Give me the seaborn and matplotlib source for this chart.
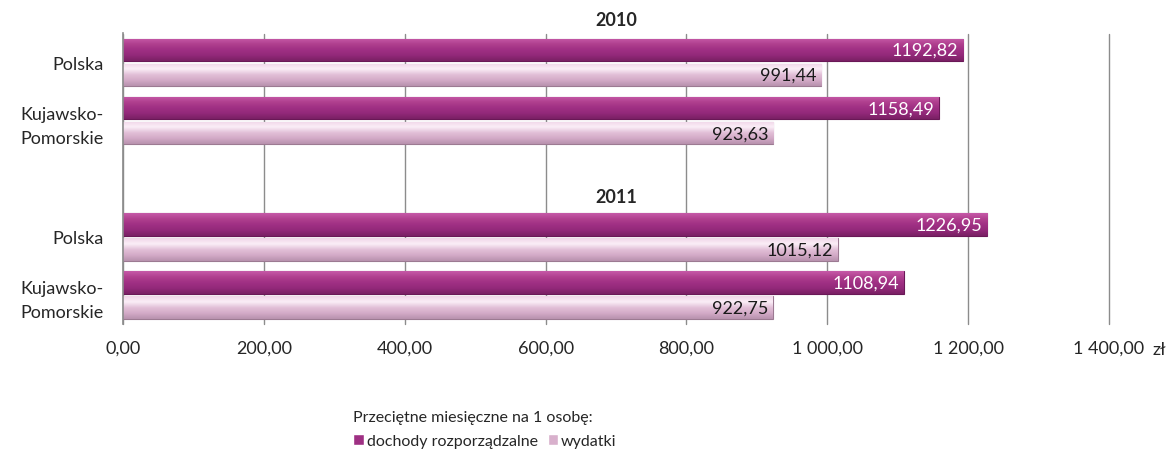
import numpy as np
import pandas as pd
import matplotlib
matplotlib.use("Agg")
import matplotlib.pyplot as plt
import matplotlib.transforms as mtrans
from matplotlib.colors import LinearSegmentedColormap
import seaborn as sns

# data
years = ["2010", "2011"]
regions = ["Polska", "Kujawsko-Pomorskie"]
region_labels = ["Polska", "Kujawsko-\nPomorskie"]
dochody = [1192.82, 1158.49, 1226.95, 1108.94]
wydatki = [991.44, 923.63, 1015.12, 922.75]
series = ["dochody rozporządzalne", "wydatki"]
colors = ["#9E3083", "#D8B0CC"]
edge_colors = ["#6A1857", "#9C7A92"]
label_colors = ["white", "#1a1a1a"]
# top -> bottom shading of the bars
shades = [["#C65AA8", "#B0408F", "#A03084", "#93297A", "#7A2064"],
          ["#F0D6E8", "#FBEEF7", "#E2C0D8", "#D3AAC7", "#B892AE"]]
x_ticks = [0, 200, 400, 600, 800, 1000, 1200, 1400]

rows = [f"{y}|{r}" for y in years for r in regions]
df = pd.DataFrame({
    "row": rows * 2,
    "series": [series[0]] * 4 + [series[1]] * 4,
    "value": dochody + wydatki,
})
order = rows[:2] + ["gap"] + rows[2:]

sns.set_style("white")
plt.rcParams["font.family"] = ["Lato", "DejaVu Sans"]
fs = 13

fig = plt.figure(figsize=(11.73, 4.6), dpi=100)
ax = fig.add_axes([0.1049, 0.2935, 0.8405, 0.6315])

sns.barplot(data=df, y="row", x="value", hue="series", order=order,
            hue_order=series, palette=colors, saturation=1, width=0.86,
            gap=0.1, orient="h", ax=ax, legend=True)

grad = np.linspace(0, 1, 64).reshape(-1, 1)
for i, cont in enumerate(ax.containers):
    cmap = LinearSegmentedColormap.from_list(f"s{i}", shades[i])
    for bar in cont:
        bar.set_edgecolor(edge_colors[i])
        bar.set_linewidth(0.8)
        x0, y0 = bar.get_x(), bar.get_y()
        w, h = bar.get_width(), bar.get_height()
        im = ax.imshow(grad, cmap=cmap, aspect="auto", origin="upper",
                       extent=(x0, x0 + w, y0 + h, y0), zorder=bar.get_zorder() + 0.1)
        im.set_clip_path(bar)
        ax.text(w - 7, y0 + h / 2, f"{w:.2f}".replace(".", ","), ha="right",
                va="center", color=label_colors[i], fontsize=fs, zorder=5)

ax.set_xlim(0, 1400)
ax.set_ylim(len(order) - 0.5, -0.5)
ax.set_xticks(x_ticks)
ax.set_xticklabels([f"{v:,.2f}".replace(",", " ").replace(".", ",") for v in x_ticks])
ax.set_yticks([0, 1, 3, 4])
ax.set_yticklabels(region_labels * 2, linespacing=1.6)
ax.set_xlabel("")
ax.set_ylabel("")
ax.grid(axis="x", color="#8c8c8c", linewidth=1)
for gl in ax.get_xgridlines():
    gl.set_clip_on(False)
ax.set_axisbelow(True)
for s in ["top", "right", "bottom"]:
    ax.spines[s].set_visible(False)
ax.spines["left"].set_color("#8c8c8c")
ax.spines["left"].set_linewidth(1.2)
ax.tick_params(axis="x", length=6, color="#8c8c8c", pad=5, labelsize=fs)
ax.tick_params(axis="y", length=0, pad=14, labelsize=fs)

blend = mtrans.blended_transform_factory(ax.transAxes, ax.transData)
ax.text(0.5, -0.6, years[0], transform=blend, ha="center", va="bottom",
        fontweight="bold", fontsize=fs)
ax.text(0.5, 2.45, years[1], transform=blend, ha="center", va="bottom",
        fontweight="bold", fontsize=fs)
ax.text(1.044, -0.086, "zł", transform=ax.transAxes, ha="left", va="center", fontsize=fs)

handles, labels = ax.get_legend_handles_labels()
ax.get_legend().remove()
leg = fig.legend(handles, labels, title="Przeciętne miesięczne na 1 osobę:",
                 loc="upper left", bbox_to_anchor=(0.289, 0.137), ncol=2,
                 frameon=False, handlelength=0.65, handleheight=0.65,
                 handletextpad=0.2, columnspacing=0.6, fontsize=11.5,
                 title_fontsize=11.5, alignment="left")
leg._legend_box.sep = 7

fig.savefig("out.png", dpi=100)
